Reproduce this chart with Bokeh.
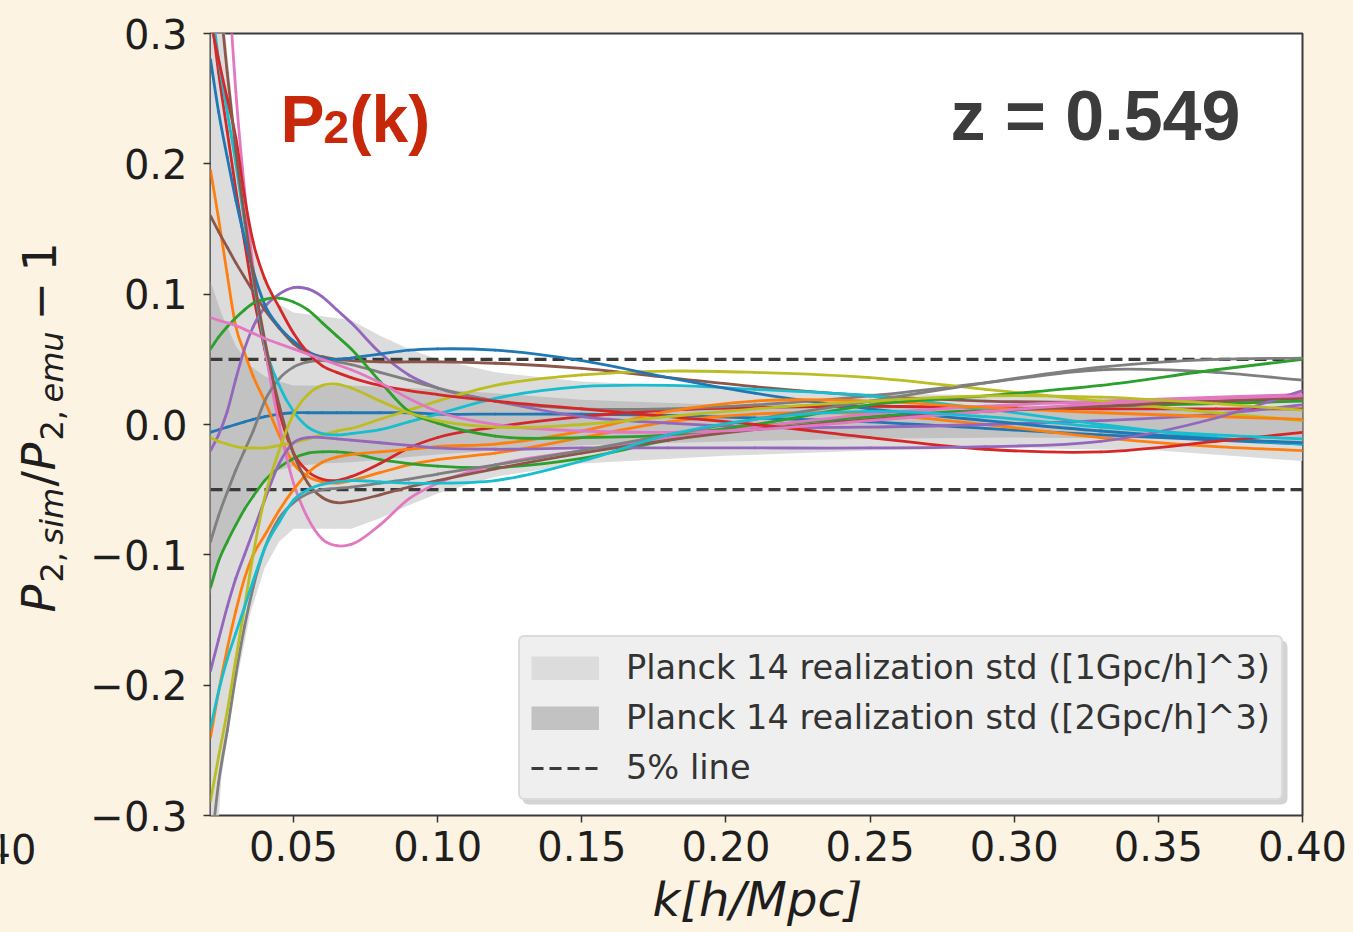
from math import pi

from bokeh.core.properties import value
from bokeh.embed import file_html
from bokeh.layouts import column, row
from bokeh.models import (BoxAnnotation, CustomJSTickFormatter, FixedTicker,
                          Legend, LegendItem, Range1d)
from bokeh.plotting import figure
from bokeh.resources import INLINE

# ---------------------------------------------------------------- data
# wavenumber grid of the ratio curves [h/Mpc]
k_vals = [0.0212, 0.024, 0.027, 0.030, 0.033, 0.036, 0.040, 0.045, 0.050,
          0.055, 0.060, 0.065, 0.070, 0.080, 0.090, 0.100, 0.120, 0.150,
          0.180, 0.210, 0.250, 0.290, 0.330, 0.370, 0.400]

# P2_sim / P2_emu - 1 for each simulated cosmology
blue_a = [-0.006, -0.004, -0.002, 0.000, 0.002, 0.004, 0.006, 0.008, 0.009,
          0.009, 0.009, 0.009, 0.009, 0.009, 0.009, 0.008, 0.008, 0.008,
          0.007, 0.005, 0.002, -0.003, -0.008, -0.012, -0.015]
orange_a = [0.195, 0.158, 0.115, 0.075, 0.055, 0.037, 0.018, -0.008, -0.030,
            -0.040, -0.044, -0.045, -0.043, -0.037, -0.031, -0.027, -0.022,
            -0.010, 0.002, 0.008, 0.008, 0.000, -0.010, -0.017, -0.020]
green_a = [-0.125, -0.105, -0.090, -0.077, -0.065, -0.055, -0.043, -0.033,
           -0.026, -0.022, -0.021, -0.021, -0.022, -0.027, -0.030, -0.032,
           -0.033, -0.026, -0.012, -0.002, 0.006, 0.011, 0.014, 0.016, 0.018]
red_a = [0.320, 0.270, 0.225, 0.180, 0.140, 0.100, 0.058, 0.010, -0.022,
         -0.036, -0.042, -0.043, -0.040, -0.030, -0.018, -0.010, -0.002,
         0.006, 0.011, 0.013, 0.014, 0.013, 0.012, 0.012, 0.012]
purple_a = [-0.020, -0.008, 0.010, 0.035, 0.058, 0.075, 0.090, 0.100, 0.105,
            0.104, 0.098, 0.088, 0.078, 0.055, 0.038, 0.028, 0.018, 0.006,
            0.001, -0.002, -0.002, 0.000, 0.003, 0.008, 0.015]
brown_a = [0.160, 0.148, 0.136, 0.124, 0.113, 0.102, 0.088, 0.074, 0.062,
           0.055, 0.052, 0.050, 0.049, 0.048, 0.048, 0.048, 0.047, 0.043,
           0.036, 0.029, 0.022, 0.018, 0.017, 0.018, 0.020]
pink_a = [0.700, 0.500, 0.360, 0.255, 0.180, 0.120, 0.060, 0.000, -0.045,
          -0.072, -0.088, -0.093, -0.092, -0.077, -0.057, -0.045, -0.031,
          -0.020, -0.010, -0.002, 0.008, 0.014, 0.018, 0.021, 0.023]
gray_a = [-0.090, -0.070, -0.052, -0.035, -0.020, -0.005, 0.018, 0.035, 0.044,
          0.048, 0.049, 0.048, 0.046, 0.040, 0.034, 0.028, 0.018, 0.012,
          0.012, 0.015, 0.022, 0.032, 0.042, 0.040, 0.034]
olive_a = [-0.010, -0.013, -0.015, -0.017, -0.018, -0.018, -0.018, -0.016,
           -0.014, -0.011, -0.008, -0.005, -0.003, 0.004, 0.011, 0.018, 0.030,
           0.038, 0.041, 0.040, 0.036, 0.027, 0.018, 0.009, 0.003]
cyan_a = [0.330, 0.280, 0.240, 0.200, 0.155, 0.112, 0.062, 0.030, 0.010,
          -0.002, -0.007, -0.008, -0.007, -0.004, 0.002, 0.008, 0.020, 0.029,
          0.030, 0.027, 0.022, 0.012, 0.000, -0.010, -0.015]
blue_b = [0.280, 0.240, 0.205, 0.172, 0.143, 0.118, 0.092, 0.075, 0.064,
          0.056, 0.051, 0.050, 0.051, 0.054, 0.057, 0.058, 0.057, 0.049,
          0.036, 0.024, 0.012, 0.003, -0.005, -0.011, -0.014]
orange_b = [-0.240, -0.205, -0.172, -0.143, -0.118, -0.100, -0.085, -0.066,
            -0.050, -0.037, -0.029, -0.025, -0.023, -0.021, -0.019, -0.017,
            -0.015, -0.005, 0.010, 0.018, 0.018, 0.013, 0.009, 0.006, 0.004]
green_b = [0.058, 0.067, 0.075, 0.082, 0.088, 0.093, 0.096, 0.097, 0.094,
           0.088, 0.078, 0.068, 0.058, 0.033, 0.010, 0.001, -0.009, -0.010,
           -0.008, 0.000, 0.015, 0.022, 0.030, 0.042, 0.050]
red_b = [0.310, 0.280, 0.250, 0.220, 0.175, 0.140, 0.112, 0.090, 0.070,
         0.055, 0.045, 0.040, 0.036, 0.030, 0.026, 0.023, 0.018, 0.012,
         0.006, 0.000, -0.010, -0.019, -0.021, -0.013, -0.006]
purple_b = [-0.189, -0.165, -0.140, -0.118, -0.100, -0.082, -0.058, -0.030,
            -0.014, -0.010, -0.010, -0.011, -0.012, -0.014, -0.016, -0.018,
            -0.019, -0.018, -0.018, -0.018, -0.018, -0.017, -0.013, 0.005,
            0.026]
brown_b = [0.420, 0.340, 0.270, 0.210, 0.160, 0.115, 0.065, 0.015, -0.022,
           -0.045, -0.056, -0.060, -0.059, -0.054, -0.048, -0.043, -0.034,
           -0.022, -0.012, -0.004, 0.004, 0.010, 0.014, 0.018, 0.021]
pink_b = [0.082, 0.080, 0.078, 0.076, 0.073, 0.070, 0.066, 0.062, 0.058,
          0.054, 0.050, 0.046, 0.042, 0.032, 0.020, 0.010, 0.000, -0.005,
          -0.006, -0.004, 0.003, 0.010, 0.016, 0.020, 0.022]
gray_b = [-0.330, -0.275, -0.235, -0.192, -0.155, -0.125, -0.095, -0.072,
          -0.060, -0.053, -0.050, -0.049, -0.048, -0.045, -0.042, -0.038,
          -0.031, -0.020, -0.008, 0.004, 0.018, 0.032, 0.044, 0.050, 0.051]
olive_b = [-0.289, -0.255, -0.220, -0.180, -0.140, -0.100, -0.056, -0.020,
           0.008, 0.023, 0.030, 0.031, 0.028, 0.018, 0.009, 0.003, -0.002,
           0.000, 0.006, 0.012, 0.018, 0.022, 0.021, 0.016, 0.011]
cyan_b = [-0.233, -0.205, -0.180, -0.160, -0.140, -0.120, -0.095, -0.075,
          -0.058, -0.050, -0.046, -0.044, -0.043, -0.044, -0.045, -0.045,
          -0.043, -0.028, -0.008, 0.004, 0.010, 0.006, -0.002, -0.008, -0.011]

# realization scatter bands (upper / lower edges)
k_band = [0.0212, 0.025, 0.030, 0.035, 0.040, 0.045, 0.050, 0.060, 0.070,
          0.080, 0.090, 0.100, 0.120, 0.150, 0.200, 0.250, 0.300, 0.350, 0.400]
std_1gpc_hi = [0.450, 0.330, 0.220, 0.150, 0.110, 0.092, 0.086, 0.083, 0.080,
               0.068, 0.058, 0.050, 0.040, 0.033, 0.028, 0.024, 0.022, 0.020,
               0.020]
std_1gpc_lo = [-0.400, -0.270, -0.200, -0.145, -0.110, -0.090, -0.080, -0.080,
               -0.080, -0.072, -0.062, -0.053, -0.040, -0.030, -0.024, -0.020,
               -0.018, -0.020, -0.028]
std_2gpc_hi = [0.110, 0.085, 0.060, 0.045, 0.037, 0.033, 0.030, 0.030, 0.030,
               0.029, 0.028, 0.027, 0.024, 0.019, 0.015, 0.013, 0.012, 0.012,
               0.013]
std_2gpc_lo = [-0.130, -0.100, -0.075, -0.055, -0.042, -0.035, -0.032, -0.030,
               -0.029, -0.027, -0.025, -0.023, -0.020, -0.016, -0.013, -0.011,
               -0.010, -0.011, -0.013]

five_percent = 0.05
x_ticks = [0.05, 0.10, 0.15, 0.20, 0.25, 0.30, 0.35, 0.40]
y_ticks = [-0.3, -0.2, -0.1, 0.0, 0.1, 0.2, 0.3]
redshift_text = "z = 0.549"

# ---------------------------------------------------------------- layout
PAGE_W, PAGE_H = 1353, 932
SIDE_W = 80                      # strip holding the rotated y label
STRIP_H = 52                     # strip holding the x label
FRAME_L, FRAME_R, FRAME_T, FRAME_B = 210, 1302, 33, 815
MAIN_W, MAIN_H = PAGE_W - SIDE_W, PAGE_H - STRIP_H
X0, X1 = k_vals[0], x_ticks[-1]
Y0, Y1 = y_ticks[0], y_ticks[-1]
CREAM = "#fdf3e2"
INK = "#1e1e1e"
FONT = "DejaVu Sans"
BASE_SHIFT = 0.4                 # alphabetic anchor sits this many em below


def px_x(px):
    """page x pixel -> k inside the main frame"""
    return X0 + (px - FRAME_L) * (X1 - X0) / (FRAME_R - FRAME_L)


def px_y(py):
    """page y pixel -> ratio value inside the main frame"""
    return Y1 - (py - FRAME_T) * (Y1 - Y0) / (FRAME_B - FRAME_T)


def smooth(xs, ys):
    """cubic Bezier segments through the points (C1 Hermite form)"""
    n = len(xs)
    h = [xs[i + 1] - xs[i] for i in range(n - 1)]
    d = [(ys[i + 1] - ys[i]) / h[i] for i in range(n - 1)]
    s = [d[0]] + [(d[i - 1] * h[i] + d[i] * h[i - 1]) / (h[i - 1] + h[i])
                  for i in range(1, n - 1)] + [d[-1]]
    return dict(
        x0=xs[:-1], y0=ys[:-1], x1=xs[1:], y1=ys[1:],
        cx0=[xs[i] + h[i] / 3 for i in range(n - 1)],
        cy0=[ys[i] + s[i] * h[i] / 3 for i in range(n - 1)],
        cx1=[xs[i + 1] - h[i] / 3 for i in range(n - 1)],
        cy1=[ys[i + 1] - s[i + 1] * h[i] / 3 for i in range(n - 1)],
    )


def plain_fig(w, h, x_range):
    """axis-less canvas for free-standing text"""
    f = figure(width=w, height=h, x_range=x_range, y_range=Range1d(0, h),
               output_backend="svg", toolbar_location=None, min_border=0,
               x_axis_location=None, y_axis_location=None)
    f.grid.visible = False
    f.outline_line_color = None
    f.background_fill_color = CREAM
    f.border_fill_color = CREAM
    return f


# ---------------------------------------------------------------- main plot
p = figure(width=MAIN_W, height=MAIN_H,
           x_range=Range1d(X0, X1), y_range=Range1d(Y0, Y1),
           output_backend="svg", toolbar_location=None,
           min_border_left=FRAME_L - SIDE_W,
           min_border_right=PAGE_W - FRAME_R,
           min_border_top=FRAME_T, min_border_bottom=MAIN_H - FRAME_B)
p.border_fill_color = CREAM
p.background_fill_color = "white"
p.outline_line_color = "#3a3a3a"
p.outline_line_width = 2
p.grid.visible = False

for ax in (p.xaxis[0], p.yaxis[0]):
    ax.axis_line_color = None
    ax.major_tick_out = 7
    ax.major_tick_in = 0
    ax.minor_tick_out = 0
    ax.minor_tick_in = 0
    ax.major_tick_line_color = "#333333"
    ax.major_tick_line_width = 1.5
    ax.major_label_text_font = FONT
    ax.major_label_text_font_size = "40px"
    ax.major_label_text_color = INK

p.xaxis.ticker = FixedTicker(ticks=x_ticks)
p.xaxis.formatter = CustomJSTickFormatter(code="return tick.toFixed(2);")
p.xaxis.major_label_standoff = 8

p.yaxis.ticker = FixedTicker(ticks=y_ticks)
p.yaxis.formatter = CustomJSTickFormatter(
    code="return (tick < -1e-9 ? '\u2212' : '') + Math.abs(tick).toFixed(1);")
p.yaxis.major_label_standoff = 16

# scatter bands
LIGHT, DARK = "#dcdcdc", "#c2c2c2"
p.varea(x=k_band, y1=std_1gpc_lo, y2=std_1gpc_hi, fill_color=LIGHT)
p.varea(x=k_band, y1=std_2gpc_lo, y2=std_2gpc_hi, fill_color=DARK)

# 5% guide lines
k_span = [k_vals[0], k_vals[-1]]
dash_kw = dict(line_color="#3a3a3a", line_width=3.2, line_dash="12 6")
r_5up = p.line(k_span, [five_percent, five_percent], **dash_kw)
p.line(k_span, [-five_percent, -five_percent], **dash_kw)

# simulation curves, tab10 colour cycle
series = [
    (blue_a, "#1f77b4"), (orange_a, "#ff7f0e"), (green_a, "#2ca02c"),
    (red_a, "#d62728"), (purple_a, "#9467bd"), (brown_a, "#8c564b"),
    (pink_a, "#e377c2"), (gray_a, "#7f7f7f"), (olive_a, "#bcbd22"),
    (cyan_a, "#17becf"),
    (blue_b, "#1f77b4"), (orange_b, "#ff7f0e"), (green_b, "#2ca02c"),
    (red_b, "#d62728"), (purple_b, "#9467bd"), (brown_b, "#8c564b"),
    (pink_b, "#e377c2"), (gray_b, "#7f7f7f"), (olive_b, "#bcbd22"),
    (cyan_b, "#17becf"),
]
for vals, col in series:
    p.bezier(**smooth(k_vals, vals), line_color=col, line_width=2.8,
             line_cap="round")

# legend swatches: full-width bars that never show inside the frame
no_data = [float("nan")] * len(k_span)
sw_light = p.line(k_span, no_data, line_color=LIGHT, line_width=24,
                  line_cap="butt")
sw_dark = p.line(k_span, no_data, line_color=DARK, line_width=24,
                 line_cap="butt")

# legend drop shadow
p.add_layout(BoxAnnotation(left=px_x(522), right=px_x(1287),
                           top=px_y(640), bottom=px_y(804),
                           fill_color="#a8a8a8", fill_alpha=0.5,
                           line_color=None, border_radius=6))

legend = Legend(items=[
    LegendItem(label="Planck 14 realization std ([1Gpc/h]^3)",
               renderers=[sw_light]),
    LegendItem(label="Planck 14 realization std ([2Gpc/h]^3)",
               renderers=[sw_dark]),
    LegendItem(label="5% line", renderers=[r_5up]),
], location=(308, 15))
legend.background_fill_color = "#efefef"
legend.background_fill_alpha = 1.0
legend.border_line_color = "#c8c8c8"
legend.border_line_width = 2
legend.border_radius = 6
legend.label_text_font = FONT
legend.label_text_font_size = "33.6px"
legend.label_text_color = "#333333"
legend.glyph_width = 68
legend.glyph_height = 24
legend.label_standoff = 27
legend.spacing = 11
legend.padding = 11
legend.margin = 0
p.add_layout(legend)

# panel titles
TITLE_RED = "#c8280a"
for txt, x_px, size in (("P", 280, 66), ("2", 323, 46), ("(k)", 349, 66)):
    p.text(x=[px_x(x_px)], y=[px_y(145 - BASE_SHIFT * size)], text=[txt],
           text_font=value("Liberation Sans"), text_font_style=value("bold"),
           text_font_size=value(f"{size}px"), text_color=TITLE_RED,
           text_baseline="alphabetic", text_align="left")
p.text(x=[px_x(950)], y=[px_y(143 - BASE_SHIFT * 70)], text=[redshift_text],
       text_font=value("Liberation Sans"), text_font_style=value("bold"),
       text_font_size=value("70px"), text_color="#3c3c3c",
       text_baseline="alphabetic", text_align="left")

# ---------------------------------------------------------------- y label
side = plain_fig(SIDE_W, PAGE_H, Range1d(0, SIDE_W))
# P_{2,sim}/P_{2,emu} - 1, set piece by piece upward from the bottom
MAIN_BASE, SUB_BASE = 57, 64
y_pieces = [
    ("P", 46, "italic", MAIN_BASE, 30),
    ("2,", 32, "normal", SUB_BASE, 38),
    ("sim", 32, "italic", SUB_BASE, 58),
    ("/", 46, "normal", MAIN_BASE, 16),
    ("P", 46, "italic", MAIN_BASE, 30),
    ("2,", 32, "normal", SUB_BASE, 38),
    ("emu", 32, "italic", SUB_BASE, 82),
    ("\u2212", 46, "normal", MAIN_BASE, 49),
    ("1", 46, "normal", MAIN_BASE, 30),
]
pos = 612
for txt, size, style, base, adv in y_pieces:
    side.text(x=[base - BASE_SHIFT * size], y=[PAGE_H - pos], text=[txt],
              angle=pi / 2, text_font=value(FONT),
              text_font_style=value(style),
              text_font_size=value(f"{size}px"), text_color=INK,
              text_baseline="alphabetic", text_align="left")
    pos -= adv

# tick label of the neighbouring panel, cut by the page edge
side.text(x=[36], y=[PAGE_H - 833], text=["0.40"], text_font=value(FONT),
          text_font_size=value("40px"), text_color=INK,
          text_align="right", text_baseline="top")

# ---------------------------------------------------------------- x label
# the strip's frame lines up with the main frame, so it shares the k scale
strip = plain_fig(MAIN_W, STRIP_H, Range1d(X0, X1))
strip.text(x=[px_x(652)], y=[PAGE_H - (918 - BASE_SHIFT * 48)],
           text=["k[h/Mpc]"], text_font=value(FONT),
           text_font_style=value("italic"), text_font_size=value("48px"),
           text_color=INK, text_align="left", text_baseline="alphabetic")

page = row(side, column(p, strip, spacing=0), spacing=0)
page.styles = {"background-color": CREAM}
open("out.html", "w").write(file_html(page, INLINE))
